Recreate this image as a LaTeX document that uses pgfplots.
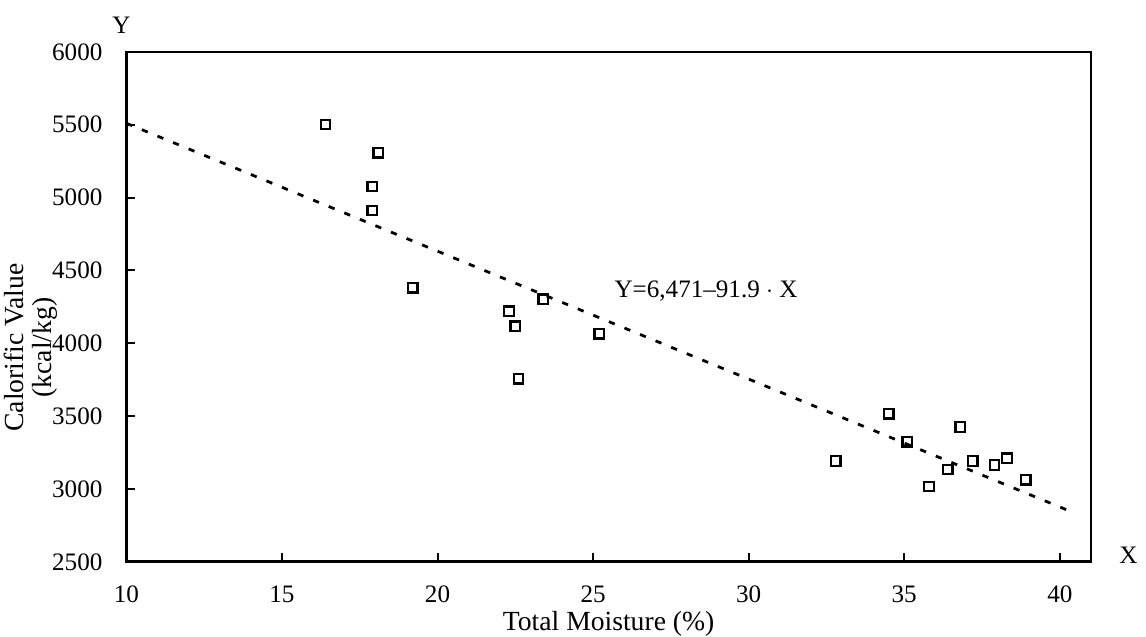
\documentclass[border=0pt]{standalone}
\usepackage{fontspec}
\setmainfont{Liberation Serif}
\usepackage{pgfplots}
\pgfplotsset{compat=1.18}

\begin{document}
\begin{tikzpicture}
\begin{axis}[
    scale only axis,
    width=384pt,
    height=203pt,
    xmin=10, xmax=41,
    ymin=2500, ymax=6000,
    xtick={10,15,...,40},
    ytick={2500,3000,...,6000},
    tick align=inside,
    xtick pos=bottom,
    ytick pos=left,
    major tick length=3.5pt,
    axis line style={line width=1.1pt},
    tick style={line width=0.8pt, black},
    font=\fontsize{10}{12}\selectfont,
    /pgf/number format/assume math mode=true,
    /pgf/number format/1000 sep={},
    xticklabel style={yshift=-6pt},
    yticklabel style={xshift=-6pt},
    xlabel={Total Moisture (\%)},
    xlabel style={font=\fontsize{11}{12}\selectfont, inner sep=0pt, yshift=0pt},
    clip=false
]
% invisible frame, sets the page to the reference's proportions
\path (rel axis cs:-0.131,-0.131) rectangle (rel axis cs:1.0527,1.1018);

% regression line
\addplot[black, line width=1.1pt, dash pattern=on 2.5pt off 4.2pt] coordinates {
(10,5510) (40.3,2850)
};

% measured samples
\addplot[only marks, mark=square, mark size=1.9pt, mark options={line width=0.9pt, black}] coordinates {
(16.4,5502) (18.1,5308) (17.9,5076) (17.9,4911) (19.2,4382)
(22.3,4220) (22.5,4117) (22.6,3756) (23.4,4302) (25.2,4065)
(32.8,3191) (34.5,3517) (35.1,3324) (35.8,3017) (36.4,3134)
(36.8,3425) (37.2,3192) (37.9,3165) (38.3,3210) (38.9,3063)
};

\node[font=\fontsize{10}{12}\selectfont] at (rel axis cs:0.601,0.530) {Y=6,471--91.9 $\cdot$ X};
\node at (rel axis cs:-0.005,1.053) {Y};
\node at (rel axis cs:1.039,0.012) {X};
\node[rotate=90, align=center, inner sep=0pt, font=\fontsize{11}{11}\selectfont] at (rel axis cs:-0.099,0.42) {Calorific Value\\(kcal/kg)};
\end{axis}
\end{tikzpicture}
\end{document}
